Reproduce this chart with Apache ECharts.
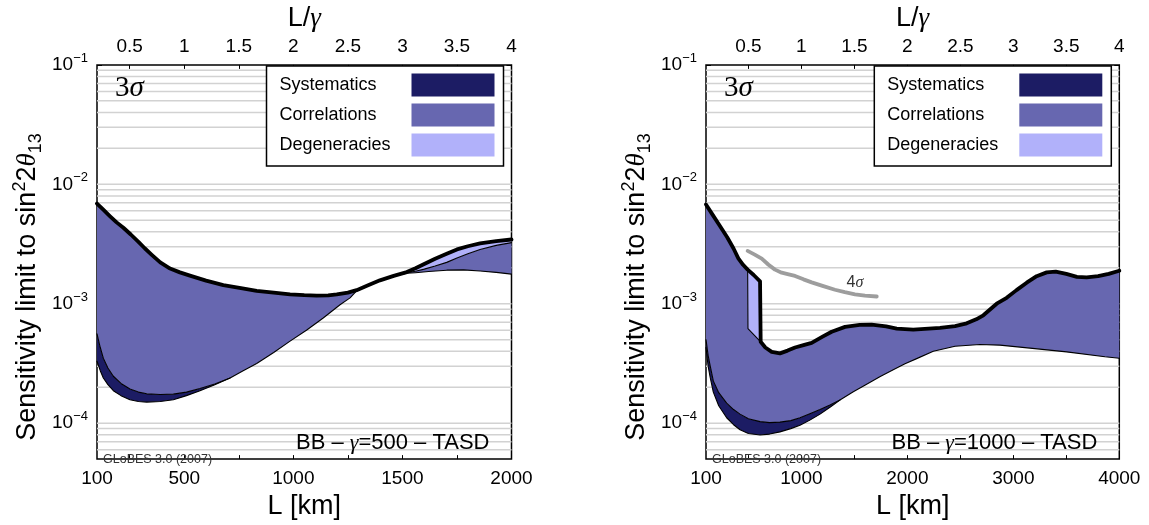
<!DOCTYPE html>
<html>
<head>
<meta charset="utf-8">
<script src="https://cdn.jsdelivr.net/npm/echarts@6/dist/echarts.min.js"></script>
<style>
  html, body { margin: 0; padding: 0; background: #fff; }
  #chart { width: 1149px; height: 525px; }
</style>
</head>
<body>
<div id="chart"></div>
<script>
// sin^2 2θ13 sensitivity limit versus baseline for a beta beam (TASD detector),
// γ = 500 (left) and γ = 1000 (right). Bands: systematics, correlations, degeneracies.

// ---- axis ticks and labels ----
const decadeTicks = [1e-4, 1e-3, 1e-2, 1e-1];
const kmLabels500 = [100, 500, 1000, 1500, 2000];
const kmTicks500 = [250, 500, 750, 1000, 1250, 1500, 1750];
const kmLabels1000 = [100, 1000, 2000, 3000, 4000];
const kmTicks1000 = [500, 1000, 1500, 2000, 2500, 3000, 3500];
const ratioLabels = [0.5, 1, 1.5, 2, 2.5, 3, 3.5, 4];

// ---- γ = 500 : [L in km, sin^2 2θ13 limit] ----
const stat500 = [[100, 3.3e-4], [115, 2.75e-4], [129, 2.39e-4], [150, 2.1e-4], [175, 1.87e-4], [210, 1.7e-4],
  [251, 1.57e-4], [290, 1.52e-4], [328, 1.5e-4], [390, 1.52e-4], [450, 1.57e-4], [510, 1.7e-4], [572, 1.87e-4],
  [640, 2.1e-4], [710, 2.39e-4], [770, 2.75e-4], [832, 3.16e-4], [910, 3.9e-4], [985, 4.86e-4], [1060, 6.0e-4],
  [1137, 7.6e-4], [1214, 9.8e-4], [1260, 1.12e-3], [1290, 1.28e-3], [1340, 1.41e-3], [1397, 1.56e-3],
  [1460, 1.7e-3], [1520, 1.8e-3], [1560, 1.82e-3], [1620, 1.86e-3], [1703, 1.91e-3], [1780, 1.92e-3],
  [1856, 1.88e-3], [1930, 1.83e-3], [2000, 1.77e-3]];
// stat + systematics, where it differs from stat500
const sys500 = [[100, 5.6e-4], [115, 4.3e-4], [129, 3.5e-4], [150, 2.9e-4], [175, 2.47e-4], [210, 2.15e-4],
  [251, 1.93e-4], [290, 1.82e-4], [328, 1.76e-4], [390, 1.74e-4], [450, 1.75e-4], [510, 1.82e-4], [572, 1.95e-4],
  [640, 2.13e-4], [710, 2.39e-4]];
// + correlations, where it differs from final500
const corr500 = [[1520, 1.82e-3], [1560, 1.87e-3], [1600, 1.95e-3], [1650, 2.07e-3], [1703, 2.22e-3],
  [1750, 2.42e-3], [1800, 2.62e-3], [1856, 2.85e-3], [1930, 3.08e-3], [2000, 3.25e-3]];
// + degeneracies (final limit)
const final500 = [[100, 6.9e-3], [130, 6.1e-3], [160, 5.4e-3], [190, 4.8e-3], [221, 4.33e-3], [255, 3.8e-3],
  [290, 3.3e-3], [320, 2.9e-3], [351, 2.57e-3], [390, 2.22e-3], [435, 1.97e-3], [480, 1.83e-3], [526, 1.72e-3],
  [600, 1.56e-3], [679, 1.43e-3], [760, 1.35e-3], [832, 1.28e-3], [910, 1.24e-3], [985, 1.2e-3], [1050, 1.18e-3],
  [1107, 1.17e-3], [1160, 1.175e-3], [1199, 1.2e-3], [1250, 1.24e-3], [1290, 1.3e-3], [1340, 1.42e-3],
  [1397, 1.57e-3], [1460, 1.71e-3], [1520, 1.84e-3], [1560, 1.98e-3], [1600, 2.15e-3], [1650, 2.38e-3],
  [1703, 2.62e-3], [1750, 2.85e-3], [1800, 3.03e-3], [1856, 3.2e-3], [1930, 3.35e-3], [2000, 3.45e-3]];

// ---- γ = 1000 ----
const stat1000 = [[100, 4.3e-4], [120, 3.0e-4], [140, 2.4e-4], [169, 1.82e-4], [220, 1.4e-4], [295, 1.11e-4],
  [360, 9.7e-5], [421, 8.8e-5], [500, 8.2e-5], [610, 7.96e-5], [700, 8.1e-5], [798, 8.45e-5], [900, 9.0e-5],
  [987, 9.6e-5], [1080, 1.06e-4], [1176, 1.19e-4], [1270, 1.36e-4], [1364, 1.56e-4], [1490, 1.83e-4],
  [1616, 2.12e-4], [1740, 2.45e-4], [1867, 2.8e-4], [1978, 3.15e-4], [2088, 3.47e-4], [2245, 4.0e-4],
  [2450, 4.4e-4], [2685, 4.55e-4], [2874, 4.5e-4], [3157, 4.25e-4], [3503, 3.95e-4], [3865, 3.6e-4], [4000, 3.5e-4]];
const sys1000 = [[100, 5.0e-4], [120, 3.7e-4], [140, 3.0e-4], [169, 2.26e-4], [220, 1.8e-4], [295, 1.47e-4],
  [360, 1.3e-4], [421, 1.19e-4], [500, 1.09e-4], [610, 1.03e-4], [700, 1.01e-4], [798, 1.02e-4], [900, 1.05e-4],
  [987, 1.11e-4], [1080, 1.2e-4], [1176, 1.3e-4], [1270, 1.42e-4], [1364, 1.56e-4]];
const corr1000 = [[493, 1.93e-3], [496, 6.2e-4], [616, 4.8e-4]];
const final1000 = [[100, 6.78e-3], [160, 5.6e-3], [230, 4.5e-3], [300, 3.6e-3], [360, 2.9e-3], [405, 2.4e-3],
  [450, 2.12e-3], [493, 1.93e-3], [550, 1.74e-3], [610, 1.54e-3], [616, 4.8e-4], [660, 4.3e-4], [720, 3.95e-4],
  [798, 3.84e-4], [870, 4.05e-4], [940, 4.3e-4], [1020, 4.5e-4], [1097, 4.7e-4], [1200, 5.3e-4], [1286, 5.83e-4],
  [1412, 6.4e-4], [1550, 6.65e-4], [1663, 6.68e-4], [1800, 6.45e-4], [1900, 6.2e-4], [2056, 6.08e-4],
  [2200, 6.2e-4], [2308, 6.28e-4], [2450, 6.5e-4], [2560, 6.85e-4], [2650, 7.4e-4], [2717, 8.0e-4],
  [2843, 1.0e-3], [2937, 1.12e-3], [3030, 1.3e-3], [3126, 1.5e-3], [3220, 1.7e-3], [3315, 1.83e-3],
  [3400, 1.86e-3], [3500, 1.78e-3], [3600, 1.68e-3], [3692, 1.66e-3], [3800, 1.7e-3], [3900, 1.78e-3],
  [4000, 1.89e-3]];
// final limit at 4σ (partial curve)
const fourSigma1000 = [[493, 2.77e-3], [560, 2.58e-3], [626, 2.39e-3], [690, 2.12e-3], [751, 1.93e-3],
  [814, 1.82e-3], [880, 1.76e-3], [940, 1.71e-3], [1020, 1.6e-3], [1097, 1.51e-3], [1200, 1.41e-3],
  [1317, 1.31e-3], [1410, 1.25e-3], [1506, 1.2e-3], [1600, 1.17e-3], [1711, 1.15e-3]];

// ---- style ----
const SANS = '"Liberation Sans", Arial, Helvetica, sans-serif';
const SERIF = '"Liberation Serif", "Times New Roman", serif';
const C_SYS = '#1c1c64';
const C_CORR = '#6767b0';
const C_DEG = '#b1b1fa';
const C_GRID = '#d2d2d2';

const panels = [
  { left: 97, width: 414.5, max: 2000, gamma: 500, kmLabels: kmLabels500, kmTicks: kmTicks500,
    stat: stat500, sys: sys500, corr: corr500, fin: final500, tag: '500' },
  { left: 706, width: 413.3, max: 4000, gamma: 1000, kmLabels: kmLabels1000, kmTicks: kmTicks1000,
    stat: stat1000, sys: sys1000, corr: corr1000, fin: final1000, tag: '1000' }
];
const GRID_TOP = 57, GRID_H = 413.7;

// replace the part of `base` covered by `part`
function splice(part, base) {
  const a = part[0][0], b = part[part.length - 1][0];
  return base.filter(p => p[0] < a).concat(part, base.filter(p => p[0] > b));
}
function within(base, part) {
  const a = part[0][0], b = part[part.length - 1][0];
  return base.filter(p => p[0] >= a && p[0] <= b);
}
// band polygon between an upper and a lower curve
function band(upper, lower, color, xi, yi) {
  return {
    type: 'custom', xAxisIndex: xi, yAxisIndex: yi, z: 2, silent: true,
    data: [[1000, 1e-3]],
    renderItem: function (params, api) {
      const pts = upper.map(p => api.coord(p)).concat(lower.slice().reverse().map(p => api.coord(p)));
      return { type: 'polygon', shape: { points: pts }, style: { fill: color, stroke: null } };
    }
  };
}
function curve(data, width, color, xi, yi, z) {
  return {
    type: 'line', xAxisIndex: xi, yAxisIndex: yi, data: data, showSymbol: false, symbol: 'none',
    silent: true, z: z || 4, animation: false,
    lineStyle: { color: color || '#000', width: width, cap: 'round', join: 'round' }
  };
}

// horizontal guide lines at 1..9 × 10^n
const gridLines = [];
for (let e = -5; e <= -2; e++) {
  for (let k = 1; k <= 9; k++) {
    const v = k * Math.pow(10, e);
    if (v > 5.01e-5 && v < 0.099) gridLines.push(+v.toPrecision(3));
  }
}
function guideSeries(xi, yi) {
  return {
    type: 'custom', xAxisIndex: xi, yAxisIndex: yi, z: 1, silent: true,
    data: gridLines.map(v => [1000, v]),
    renderItem: function (params, api) {
      const y = api.coord([api.value(0), api.value(1)])[1];
      const cs = params.coordSys;
      return { type: 'line', shape: { x1: cs.x, y1: y, x2: cs.x + cs.width, y2: y },
        style: { stroke: C_GRID, lineWidth: 1.5 } };
    }
  };
}

const grids = [], xAxes = [], yAxes = [], series = [], graphics = [];
const tickLabelStyle = { fontSize: 19, fontFamily: SANS, color: '#000' };

panels.forEach((P, i) => {
  grids.push({ left: P.left, top: GRID_TOP, width: P.width, height: GRID_H, show: true,
    borderColor: '#000', borderWidth: 1.5, backgroundColor: 'transparent' });
  const xb = i * 2, yl = i * 2;
  xAxes.push({
    gridIndex: i, type: 'value', position: 'bottom', min: 100, max: P.max,
    axisLine: { show: false }, splitLine: { show: false },
    axisTick: { show: true, inside: true, length: 4, customValues: P.kmTicks, lineStyle: { color: '#000', width: 1 } },
    axisLabel: { show: true, customValues: P.kmLabels, margin: 10, formatter: v => String(v), ...tickLabelStyle },
    name: 'L [km]', nameLocation: 'middle', nameGap: 33,
    nameTextStyle: { fontSize: 27, fontFamily: SANS, color: '#000' }
  });
  xAxes.push({
    gridIndex: i, type: 'value', position: 'top', min: 100 / P.gamma, max: P.max / P.gamma,
    axisLine: { show: false }, splitLine: { show: false },
    axisTick: { show: true, inside: true, length: 4, customValues: ratioLabels, lineStyle: { color: '#000', width: 1 } },
    axisLabel: { show: true, customValues: ratioLabels, margin: 9, formatter: v => String(v), ...tickLabelStyle },
    name: 'L/{g|γ}', nameLocation: 'middle', nameGap: 28,
    nameTextStyle: { fontSize: 27, fontFamily: SANS, color: '#000',
      rich: { g: { fontSize: 27, fontFamily: SERIF, fontStyle: 'italic', color: '#000' } } }
  });
  yAxes.push({
    gridIndex: i, type: 'log', logBase: 10, position: 'left', min: 5e-5, max: 0.1,
    axisLine: { show: false }, splitLine: { show: false }, minorTick: { show: false },
    axisTick: { show: true, inside: true, length: 5, customValues: decadeTicks, lineStyle: { color: '#000', width: 1 } },
    axisLabel: {
      show: true, customValues: decadeTicks, margin: 9,
      formatter: v => '{b|10}{s|\u2212' + Math.round(-Math.log10(v)) + '}',
      rich: {
        b: { fontSize: 19, fontFamily: SANS, color: '#000', lineHeight: 26 },
        s: { fontSize: 13, fontFamily: SANS, color: '#000', verticalAlign: 'top', lineHeight: 13 }
      }
    },
    name: 'Sensitivity limit to sin{p|2}2{t|θ}{u|13}', nameLocation: 'middle', nameRotate: 90, nameGap: 52,
    nameTextStyle: {
      fontSize: 27, fontFamily: SANS, color: '#000', lineHeight: 34, padding: [0, 50, 0, 0],
      rich: {
        p: { fontSize: 18, fontFamily: SANS, color: '#000', verticalAlign: 'top', lineHeight: 18 },
        t: { fontSize: 27, fontFamily: SERIF, fontStyle: 'italic', color: '#000', lineHeight: 34 },
        u: { fontSize: 18, fontFamily: SANS, color: '#000', verticalAlign: 'bottom', lineHeight: 18 }
      }
    }
  });
  yAxes.push({
    gridIndex: i, type: 'log', logBase: 10, position: 'right', min: 5e-5, max: 0.1,
    axisLine: { show: false }, splitLine: { show: false }, minorTick: { show: false },
    axisTick: { show: true, inside: true, length: 5, customValues: decadeTicks, lineStyle: { color: '#000', width: 1 } },
    axisLabel: { show: false }
  });

  series.push(guideSeries(xb, yl));

  const sysFull = splice(P.sys, P.stat);
  const corrFull = splice(P.corr, P.fin);
  const statUnderSys = within(P.stat, P.sys);
  const finOverCorr = within(P.fin, P.corr);
  series.push(band(P.sys, statUnderSys, C_SYS, xb, yl));
  series.push(band(corrFull, sysFull, C_CORR, xb, yl));
  series.push(band(finOverCorr, P.corr, C_DEG, xb, yl));
  series.push(curve(P.stat, 1.1, '#000', xb, yl));
  series.push(curve(P.sys, 1.1, '#000', xb, yl));
  series.push(curve(P.corr, 1.1, '#000', xb, yl));
  series.push(curve(P.fin, 3.8, '#000', xb, yl, 5));

  // legend box
  const right = P.left + P.width - 8;
  const bl = right - 237, bt = 66;
  graphics.push({ type: 'rect', z: 100, shape: { x: bl, y: bt, width: 237, height: 100 },
    style: { fill: '#fff', stroke: '#000', lineWidth: 1.5 } });
  [['Systematics', C_SYS], ['Correlations', C_CORR], ['Degeneracies', C_DEG]].forEach((it, k) => {
    const cy = bt + 19 + k * 30;
    graphics.push({ type: 'text', z: 101, x: bl + 13, y: cy,
      style: { text: it[0], font: '18px ' + SANS, fill: '#000', textAlign: 'left', align: 'left',
        textVerticalAlign: 'middle', verticalAlign: 'middle' } });
    graphics.push({ type: 'rect', z: 101, shape: { x: bl + 145, y: cy - 11.5, width: 83, height: 23 },
      style: { fill: it[1] } });
  });
  // 3σ
  graphics.push({ type: 'text', z: 101, x: P.left + 18, y: 88,
    style: { text: '{n|3}{s|σ}', fill: '#000', textVerticalAlign: 'middle', verticalAlign: 'middle',
      rich: { n: { font: '29px ' + SERIF, fill: '#000' }, s: { font: 'italic 29px ' + SERIF, fill: '#000' } } } });
  // setup tag
  graphics.push({ type: 'text', z: 101, x: P.left + P.width - 22, y: 443,
    style: { text: 'BB \u2013 {g|γ}=' + P.tag + ' \u2013 TASD', font: '22px ' + SANS, fill: '#000',
      textAlign: 'right', align: 'right', textVerticalAlign: 'middle', verticalAlign: 'middle',
      rich: { g: { font: 'italic 22px ' + SERIF, fill: '#000' } } } });
  graphics.push({ type: 'text', z: 101, x: P.left + 6, y: 460,
    style: { text: 'GLoBES 3.0 (2007)', font: '12.5px ' + SANS, fill: '#333',
      textVerticalAlign: 'middle', verticalAlign: 'middle' } });
});

// 4σ curve in the γ = 1000 panel
series.push({
  ...curve(fourSigma1000, 3.8, '#9d9d9d', 2, 2, 3),
  markPoint: {
    silent: true, symbol: 'circle', symbolSize: 0, animation: false,
    data: [{ coord: [1506, 1.51e-3] }],
    label: { show: true, position: 'inside', formatter: '{n|4}{s|σ}',
      rich: { n: { fontSize: 16, fontFamily: SANS, color: '#333' },
              s: { fontSize: 16, fontFamily: SERIF, fontStyle: 'italic', color: '#333' } } }
  }
});

const chart = echarts.init(document.getElementById('chart'), null, { renderer: 'canvas' });
chart.setOption({
  animation: false,
  backgroundColor: '#fff',
  grid: grids, xAxis: xAxes, yAxis: yAxes, series: series,
  graphic: { elements: graphics }
});
</script>
</body>
</html>
